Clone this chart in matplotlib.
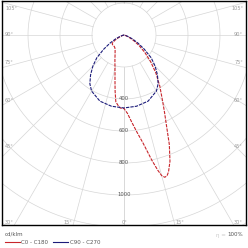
import matplotlib
matplotlib.use("Agg")
import matplotlib.pyplot as plt
from matplotlib.lines import Line2D
import numpy as np

# luminous intensity, cd/klm, gamma in degrees (0 = straight down)
gamma_c0 = [0, 2.5, 5, 7.5, 10, 12.5, 14, 15, 16, 17, 18, 20, 22.5, 25, 27.5, 30,
            35, 40, 45, 50, 55, 60, 65, 70, 75, 80, 90, 180]
int_c0 = [460, 490, 545, 610, 686, 800, 870, 910, 925, 920, 900, 840, 740, 630, 550, 485,
          390, 310, 235, 170, 115, 70, 35, 12, 3, 0, 0, 0]

gamma_c180 = [0, 3, 5, 7, 9, 11, 13, 16, 20, 25, 30, 35, 40, 45, 50, 55, 60, 65, 70, 75,
              80, 90, 180]
int_c180 = [460, 457, 440, 420, 355, 295, 250, 205, 166, 132, 111, 99, 94, 94, 94, 90,
            65, 35, 12, 3, 0, 0, 0]

gamma_c90 = [0, 10, 20, 30, 35, 40, 45, 50, 55, 60, 65, 70, 75, 80, 90, 180]
int_c90 = [456, 452, 440, 405, 372, 325, 275, 222, 155, 100, 58, 27, 10, 3, 0, 0]

rings = [200, 400, 600, 800, 1000, 1200, 1400]
ring_labels = ["400", "600", "800", "1000"]
angle_step = 15

red = "#c8262c"
blue = "#1c1c7a"
grid = "#d6d6d6"


def to_xy(g, i, side):
    g = np.radians(np.asarray(g, dtype=float))
    i = np.asarray(i, dtype=float)
    return side * i * np.sin(g), -i * np.cos(g)


fig = plt.figure(figsize=(2.48, 2.48), dpi=100)
ax = fig.add_axes([2 / 248, 23 / 248, 244 / 248, 224 / 248])
# 6.25 cd/klm per pixel, pole at pixel (124, 35)
ax.set_xlim(-762.5, 762.5)
ax.set_ylim(-1187.5, 212.5)
ax.set_xticks([])
ax.set_yticks([])
for s in ax.spines.values():
    s.set_color("black")
    s.set_linewidth(1.0)

t = np.linspace(0, 2 * np.pi, 400)
for r in rings:
    ax.plot(r * np.sin(t), r * np.cos(t), color=grid, lw=0.5, zorder=1)
for a in range(0, 181, angle_step):
    ar = np.radians(a)
    for side in (1, -1):
        ax.plot([side * 200 * np.sin(ar), side * 2000 * np.sin(ar)],
                [-200 * np.cos(ar), -2000 * np.cos(ar)], color=grid, lw=0.5, zorder=1)

for lab in ring_labels:
    ax.text(0, -float(lab), lab, fontsize=3.8, color="#555555", ha="center", va="center",
            zorder=2)

# angle labels round the frame (pixel positions)
left_lab = [("105°", 9), ("90°", 34), ("75°", 62), ("60°", 100), ("45°", 146), ("30°", 222)]
bottom_lab = [("15°", 68), ("0°", 124), ("15°", 180)]
for txt, py in left_lab:
    fig.text(5 / 248, 1 - py / 248, txt, fontsize=3.6, color="#9a9a9a", ha="left", va="center")
    fig.text(243 / 248, 1 - py / 248, txt, fontsize=3.6, color="#9a9a9a", ha="right",
             va="center")
for txt, px in bottom_lab:
    fig.text(px / 248, 1 - 222 / 248, txt, fontsize=3.6, color="#9a9a9a", ha="center",
             va="center")

x0, y0 = to_xy(gamma_c0, int_c0, 1)
x1, y1 = to_xy(gamma_c180, int_c180, -1)
ax.plot(np.concatenate([x1[::-1], x0]), np.concatenate([y1[::-1], y0]), color=red, lw=0.8,
        ls=(0, (3, 1)), zorder=3)
x2, y2 = to_xy(gamma_c90, int_c90, 1)
x3, y3 = to_xy(gamma_c90, int_c90, -1)
ax.plot(np.concatenate([x3[::-1], x2]), np.concatenate([y3[::-1], y2]), color=blue, lw=0.8,
        ls=(0, (3, 1)), zorder=3)

fig.text(5 / 248, 1 - 234 / 248, "cd/klm", fontsize=4, color="#555555", va="center")
fig.add_artist(Line2D([5 / 248, 20 / 248], [1 - 242 / 248] * 2, color=red, lw=0.8))
fig.text(21 / 248, 1 - 242 / 248, "C0 - C180", fontsize=4, color="#555555", va="center")
fig.add_artist(Line2D([53 / 248, 68 / 248], [1 - 242 / 248] * 2, color=blue, lw=0.8))
fig.text(70 / 248, 1 - 242 / 248, "C90 - C270", fontsize=4, color="#555555", va="center")
fig.text(216 / 248, 1 - 235 / 248, "η =", fontsize=4, color="#c8c8c8", va="center")
fig.text(243 / 248, 1 - 235 / 248, "100%", fontsize=4, color="#555555", va="center",
         ha="right")

fig.savefig("out.png", dpi=100)
